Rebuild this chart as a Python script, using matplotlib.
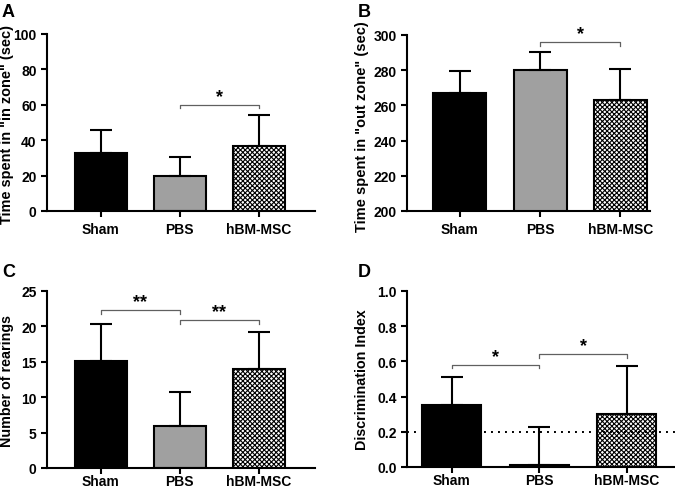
import matplotlib
matplotlib.use('Agg')
import matplotlib.pyplot as plt

plt.rcParams['font.family'] = ['Liberation Sans', 'DejaVu Sans']
plt.rcParams['font.weight'] = 'bold'
plt.rcParams['hatch.linewidth'] = 0.8

groups = ['Sham', 'PBS', 'hBM-MSC']

# panel data (mean, upper error)
a_mean = [33, 19.5, 36.5]
a_err = [12.5, 11, 17.5]
b_mean = [267, 280, 263]
b_err = [12.5, 10.5, 17.5]
c_mean = [15.1, 6.0, 14.0]
c_err = [5.3, 4.8, 5.2]
d_mean = [0.35, 0.01, 0.30]
d_err = [0.16, 0.22, 0.275]

face = ['black', '#a0a0a0', 'white']
hatches = [None, None, 'x' * 7]


def draw_panel(ax, means, errs, ylim, yticks, ylabel, xlim, width, fmt=None, pad=4):
    x = range(len(groups))
    for i in x:
        ax.bar(i, means[i], width=width, color=face[i], edgecolor='black',
               linewidth=1.5, hatch=hatches[i], zorder=2)
        ax.errorbar(i, means[i], yerr=[[0], [errs[i]]], color='black',
                    elinewidth=1.5, capsize=8, capthick=1.5, zorder=3)
    ax.set_ylim(*ylim)
    ax.set_xlim(*xlim)
    ax.set_yticks(yticks)
    if fmt:
        ax.set_yticklabels([fmt.format(t) for t in yticks])
    ax.set_xticks(list(x))
    ax.set_xticklabels(groups)
    ax.set_ylabel(ylabel, fontweight='bold', va='center')
    for s in ['top', 'right']:
        ax.spines[s].set_visible(False)
    for s in ['left', 'bottom']:
        ax.spines[s].set_linewidth(1.5)
    ax.tick_params(width=1.5, length=4, labelsize=10)
    ax.tick_params(axis='x', pad=pad)


def fit_label(ax, target_px, xpx, ypx):
    lab = ax.yaxis.label
    lab.set_fontsize(10)
    r = fig.canvas.get_renderer()
    h = lab.get_window_extent(r).height
    lab.set_fontsize(10 * target_px / h)
    pos = ax.get_position()
    x0, w = pos.x0 * W, pos.width * W
    y0, hh = (1 - pos.y1) * H, pos.height * H
    ax.yaxis.set_label_coords((xpx - x0) / w, 1 - (ypx - y0) / hh)


def bracket(ax, x1, x2, y, h, label):
    ax.plot([x1, x1, x2, x2], [y - h, y, y, y - h], color='#606060', lw=0.9, zorder=4)
    ax.text((x1 + x2) / 2, y, label, ha='center', va='bottom', fontsize=13,
            fontweight='bold')


W, H = 675, 489
fig = plt.figure(figsize=(W / 100, H / 100), dpi=100)


def box(l, t, r, b):
    return [l / W, 1 - b / H, (r - l) / W, (b - t) / H]


axA = fig.add_axes(box(47, 35, 315, 212))
axB = fig.add_axes(box(407, 36, 650, 212))
axC = fig.add_axes(box(47, 292, 315, 469))
axD = fig.add_axes(box(407, 292, 675, 468))

draw_panel(axA, a_mean, a_err, (0, 100), range(0, 101, 20),
           'Time spent in "in zone" (sec)', (-0.68, 2.71), 0.66)
bracket(axA, 1, 2, 60, 2, '*')

draw_panel(axB, b_mean, b_err, (200, 300), range(200, 301, 20),
           'Time spent in "out zone" (sec)', (-0.66, 2.37), 0.66)
bracket(axB, 1, 2, 296, 2, '*')

draw_panel(axC, c_mean, c_err, (0, 25), range(0, 26, 5),
           'Number of rearings', (-0.68, 2.71), 0.66, pad=0.5)
bracket(axC, 0, 1, 22.3, 0.5, '**')
bracket(axC, 1, 2, 20.9, 0.5, '**')

draw_panel(axD, d_mean, d_err, (0, 1.0), [0, 0.2, 0.4, 0.6, 0.8, 1.0],
           'Discrimination Index', (-0.51, 2.55), 0.67, fmt='{:.1f}', pad=0.5)
axD.axhline(0.2, color='black', lw=1.4, ls=(0, (1, 2.6)), zorder=5)
bracket(axD, 0, 1, 0.58, 0.02, '*')
bracket(axD, 1, 2, 0.64, 0.02, '*')

fit_label(axA, 198, 7, 124)
fit_label(axB, 210, 362, 127)
fit_label(axC, 132, 7, 381)
fit_label(axD, 140, 362, 380)

for letter, px, py in [('A', 2, 4), ('B', 358, 4), ('C', 2, 264), ('D', 358, 264)]:
    fig.text(px / W, 1 - py / H, letter, fontsize=13, fontweight='bold',
             ha='left', va='top')

fig.savefig('out.png', dpi=100)
